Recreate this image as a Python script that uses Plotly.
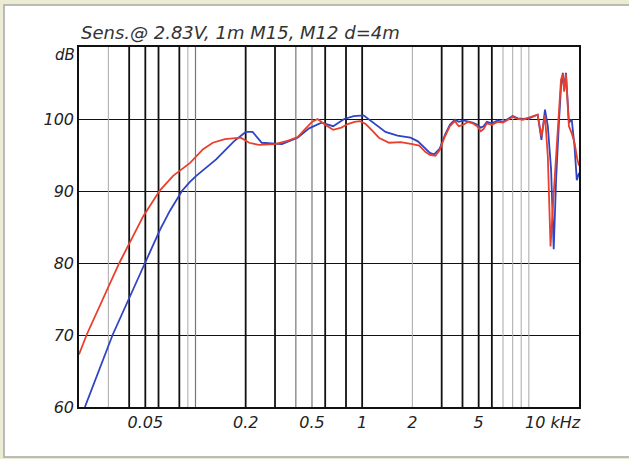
import math
import plotly.graph_objects as go

# ---- data (kHz, dB) ----
red_f = [0.020, 0.0222, 0.0349, 0.0404, 0.0486, 0.0612, 0.0734, 0.0928, 0.111, 0.127, 0.15, 0.187,
         0.21, 0.24, 0.30, 0.36, 0.41, 0.45, 0.50, 0.54, 0.60, 0.67, 0.75, 0.82, 0.90, 0.97,
         1.05, 1.15, 1.26, 1.45, 1.7, 2.0, 2.2, 2.4, 2.55, 2.75, 2.92, 3.14, 3.36, 3.6, 3.8,
         4.05, 4.3, 4.6, 4.9, 5.15, 5.35, 5.6, 6.0, 6.5, 7.0, 7.5, 8.0, 8.6, 9.2, 10.0, 10.8,
         11.3, 11.9, 12.5, 13.0, 13.5, 14.0, 14.5, 15.0, 15.6, 16.0, 16.3, 16.7, 17.4, 18.1,
         18.8, 19.5, 20.0]
red_db = [67.3, 70.0, 80.0, 82.8, 86.5, 90.1, 92.1, 93.9, 95.8, 96.7, 97.2, 97.4,
          96.7, 96.4, 96.5, 97.0, 97.5, 98.5, 99.6, 100.0, 99.2, 98.5, 98.8, 99.3, 99.6, 99.7,
          99.3, 98.4, 97.4, 96.7, 96.8, 96.5, 96.3, 95.4, 95.0, 94.9, 95.7, 97.6, 99.0, 99.7, 99.0,
          99.2, 99.6, 99.4, 99.0, 98.3, 98.6, 99.4, 99.2, 99.6, 99.5, 99.9, 100.3, 100.0, 99.9, 100.2, 100.5,
          100.6, 97.6, 100.5, 94.8, 82.3, 88.5, 94.0, 99.0, 105.5, 106.2, 103.8, 106.2, 99.0, 98.0,
          96.7, 94.5, 93.5]

blue_f = [0.0217, 0.0318, 0.0498, 0.0612, 0.070, 0.0829, 0.092, 0.101, 0.133, 0.17, 0.20, 0.22, 0.25,
          0.33, 0.41, 0.48, 0.57, 0.67, 0.78, 0.89, 1.02, 1.17, 1.38, 1.63, 1.95, 2.16, 2.4,
          2.55, 2.7, 2.92, 3.14, 3.36, 3.6, 3.8, 4.05, 4.3, 4.6, 4.9, 5.15, 5.35, 5.6, 6.0,
          6.5, 7.0, 7.5, 8.0, 8.6, 9.2, 10.0, 10.8, 11.3, 11.9, 12.5, 13.0, 13.6, 14.1, 14.6,
          15.2, 15.6, 16.0, 16.3, 16.7, 17.4, 18.1, 18.8, 19.4, 20.0]
blue_db = [60.0, 70.0, 80.0, 84.6, 87.2, 90.0, 91.2, 92.1, 94.4, 96.9, 98.2, 98.2, 96.7,
           96.5, 97.4, 98.7, 99.5, 99.0, 100.0, 100.4, 100.5, 99.5, 98.2, 97.7, 97.4, 96.9, 95.9,
           95.3, 95.1, 95.9, 97.8, 99.2, 99.9, 99.6, 99.8, 99.7, 99.5, 99.2, 98.8, 99.0, 99.6, 99.4,
           99.8, 99.6, 100.0, 100.4, 100.1, 100.0, 100.1, 100.4, 100.6, 97.1, 101.3, 99.0, 93.0, 81.9, 92.0,
           100.0, 104.5, 106.4, 104.0, 106.4, 99.5, 99.9, 96.2, 91.5, 92.5]

grid_dark = [0.04, 0.05, 0.06, 0.08, 0.2, 0.3, 0.6, 0.8, 1, 3, 4, 5, 6]
grid_mid = [0.1, 0.4, 0.5]
grid_light = [0.03, 0.09, 2, 7, 8, 9, 10]

x_tickvals = [0.05, 0.2, 0.5, 1, 2, 5]
x_ticktext = ["0.05", "0.2", "0.5", "1", "2", "5"]
y_tickvals = [60, 70, 80, 90, 100]

title_text = "Sens.@ 2.83V, 1m M15, M12 d=4m"

X_MIN, X_MAX = 0.02, 20
Y_MIN, Y_MAX = 60, 110

FONT = "DejaVu Sans"


def vlines(vals):
    xs, ys = [], []
    for v in vals:
        xs += [v, v, None]
        ys += [Y_MIN, Y_MAX, None]
    return xs, ys


fig = go.Figure()
for vals, col, w in [(grid_light, "#a8a8a8", 1), (grid_mid, "#777777", 1.2), (grid_dark, "#111111", 1.8)]:
    xs, ys = vlines(vals)
    fig.add_trace(go.Scatter(x=xs, y=ys, mode="lines", line=dict(color=col, width=w),
                             hoverinfo="skip", showlegend=False))

fig.add_trace(go.Scatter(x=blue_f, y=blue_db, mode="lines",
                         line=dict(color="#2f44c4", width=1.8), showlegend=False))
fig.add_trace(go.Scatter(x=red_f, y=red_db, mode="lines",
                         line=dict(color="#e8402c", width=1.8), showlegend=False))

fig.update_layout(
    width=629, height=459,
    margin=dict(l=79, r=50, t=47, b=52),
    paper_bgcolor="#ecebd3",
    plot_bgcolor="white",
    font=dict(family=FONT, color="#222"),
    xaxis=dict(type="log", range=[math.log10(X_MIN), math.log10(X_MAX)],
               tickvals=x_tickvals, ticktext=x_ticktext, showgrid=False, zeroline=False,
               showline=True, mirror=True, linecolor="#111", linewidth=1.6, ticks="",
               tickfont=dict(family=FONT, size=16, style="italic", color="#222")),
    yaxis=dict(range=[Y_MIN, Y_MAX], tickvals=y_tickvals, showgrid=True, gridcolor="#111",
               gridwidth=1.2, zeroline=False, showline=True, mirror=True, linecolor="#111",
               linewidth=1.6, ticks="",
               tickfont=dict(family=FONT, size=16, style="italic", color="#222")),
    shapes=[dict(type="rect", xref="paper", yref="paper", x0=-0.15, x1=1.2, y0=-0.139, y1=1.1167,
                 fillcolor="white", line=dict(color="#a8a8a8", width=1.5), layer="below")],
    annotations=[
        dict(text=title_text, xref="paper", yref="paper", x=0, y=1.039, xanchor="left",
             yanchor="middle", showarrow=False,
             font=dict(family=FONT, size=18, style="italic", color="#333")),
        dict(text="dB", xref="paper", yref="y", x=0, y=108.9, xanchor="right", xshift=-2,
             yanchor="middle", showarrow=False,
             font=dict(family=FONT, size=15, style="italic", color="#222")),
        dict(text="10 kHz", xref="x", yref="paper", x=1, y=0, xanchor="left", yanchor="top",
             xshift=-6, yshift=-4, showarrow=False,
             font=dict(family=FONT, size=16, style="italic", color="#222")),
    ],
)

fig.write_html("out.html", config={"displayModeBar": False},
               post_script="document.body.style.margin='0px';document.body.style.overflow='hidden';")
